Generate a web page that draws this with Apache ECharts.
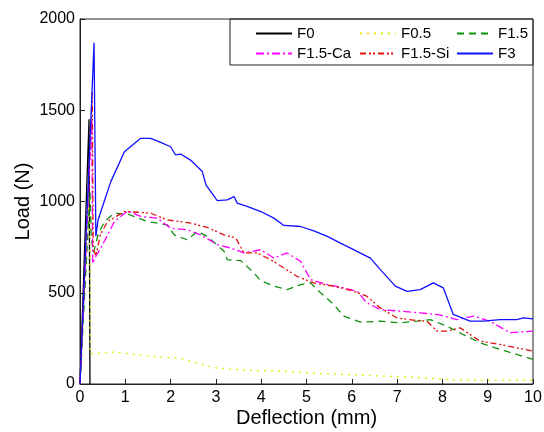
<!DOCTYPE html>
<html>
<head>
<meta charset="utf-8">
<script src="https://cdn.jsdelivr.net/npm/echarts@6/dist/echarts.min.js"></script>
<style>
  html, body { margin: 0; padding: 0; background: #fff; }
  #chart { width: 544px; height: 432px; }
</style>
</head>
<body>
<div id="chart"></div>
<script>
// series data: [deflection (mm), load (N)]
const seriesNames = ["F0", "F0.5", "F1.5", "F1.5-Ca", "F1.5-Si", "F3"];

const f0 = [[0, 0], [0.2, 1450], [0.22, 0]];

const f05 = [
  [0, 0], [0.2, 1000], [0.22, 650], [0.22, 165], [0.24, 162], [0.76, 175],
  [1.49, 153], [2.22, 140], [2.96, 89], [3.69, 75], [4.43, 71], [5.16, 58],
  [5.9, 52], [6.63, 44], [7.36, 38], [8.1, 25], [8.83, 20], [10, 20]
];

const f15 = [
  [0, 0], [0.22, 1050], [0.25, 800], [0.3, 720], [0.4, 820], [0.54, 890],
  [0.76, 936], [1.05, 931], [1.49, 890], [1.93, 872], [2.08, 817], [2.37, 790],
  [2.59, 836], [2.81, 809], [3.18, 727], [3.25, 681], [3.55, 676], [3.84, 608],
  [3.99, 566], [4.28, 536], [4.57, 517], [4.87, 545], [5.09, 554], [5.31, 500],
  [5.6, 436], [5.82, 372], [6.19, 339], [6.63, 344], [7.07, 335], [7.44, 344],
  [7.73, 353], [8.1, 317], [8.46, 271], [8.83, 226], [9.27, 190], [10, 135]
];

const f15ca = [
  [0, 0], [0.26, 1450], [0.28, 660], [0.35, 700], [0.46, 745], [0.76, 890],
  [1.05, 948], [1.34, 918], [1.71, 909], [2.0, 854], [2.37, 845], [2.67, 817],
  [3.03, 763], [3.33, 745], [3.62, 718], [3.99, 736], [4.28, 690], [4.57, 718],
  [4.87, 672], [5.09, 572], [5.46, 545], [5.82, 527], [6.12, 508], [6.33, 445],
  [6.63, 408], [7.07, 399], [7.51, 390], [7.88, 381], [8.32, 353], [8.69, 372],
  [9.05, 344], [9.49, 281], [10, 290]
];

const f15si = [
  [0, 0], [0.27, 1600], [0.29, 750], [0.35, 700], [0.45, 820], [0.61, 890],
  [0.98, 945], [1.27, 941], [1.56, 936], [1.93, 899], [2.44, 882], [2.81, 858],
  [3.18, 817], [3.44, 800], [3.62, 718], [3.91, 718], [4.21, 681], [4.5, 636],
  [4.79, 590], [5.16, 554], [5.6, 536], [6.04, 508], [6.33, 481], [6.63, 417],
  [7.0, 362], [7.36, 350], [7.66, 344], [7.88, 290], [8.1, 290], [8.39, 308],
  [8.83, 235], [9.27, 217], [10, 180]
];

const f3 = [
  [0, 0], [0.31, 1870], [0.35, 810], [0.4, 900], [0.68, 1109], [0.98, 1273],
  [1.34, 1346], [1.56, 1346], [1.78, 1324], [2.0, 1300], [2.11, 1255],
  [2.22, 1260], [2.44, 1227], [2.7, 1164], [2.78, 1091], [3.03, 1005],
  [3.25, 1009], [3.4, 1027], [3.47, 991], [3.69, 973], [3.99, 945], [4.28, 909],
  [4.5, 869], [4.87, 863], [5.16, 839], [5.46, 809], [5.75, 772], [6.04, 736],
  [6.41, 690], [6.63, 627], [6.96, 536], [7.22, 508], [7.51, 517], [7.8, 554],
  [8.02, 527], [8.24, 381], [8.61, 344], [8.91, 344], [9.27, 353], [9.64, 353],
  [9.79, 362], [10, 357]
];

const xTicks = { min: 0, max: 10, interval: 1 };
const yTicks = { min: 0, max: 2000, interval: 500 };

const chart = echarts.init(document.getElementById("chart"));

const styles = [
  { color: "#000000", type: "solid" },
  { color: "#e8e800", type: [2, 5] },
  { color: "#109010", type: [7, 5] },
  { color: "#ff00ff", type: [8, 3, 2, 3] },
  { color: "#e01010", type: [6, 3, 2, 2, 2, 3] },
  { color: "#1010ff", type: "solid" }
];
const allData = [f0, f05, f15, f15ca, f15si, f3];

const series = seriesNames.map((name, i) => ({
  name: name,
  type: "line",
  data: allData[i],
  showSymbol: false,
  symbol: "none",
  animation: false,
  lineStyle: { color: styles[i].color, type: styles[i].type, width: 1.3 },
  itemStyle: { color: styles[i].color }
}));

// legend positions, 3 columns x 2 rows
const legendPos = [
  [255, 26], [359, 26], [456, 26],
  [255, 46], [359, 46], [456, 46]
];
const legends = seriesNames.map((name, i) => ({
  data: [name],
  left: legendPos[i][0],
  top: legendPos[i][1],
  itemWidth: 36,
  itemHeight: 14,
  padding: 0,
  itemStyle: { opacity: 0 },
  textStyle: { fontFamily: "Liberation Sans", fontSize: 15, color: "#000" }
}));

chart.setOption({
  backgroundColor: "#fff",
  animation: false,
  textStyle: { fontFamily: "Liberation Sans" },
  grid: {
    left: 80, right: 11, top: 19, bottom: 48,
    outerBoundsMode: "none",
    show: true, borderColor: "#222", borderWidth: 1
  },
  legend: legends,
  graphic: [{
    type: "rect",
    shape: { x: 230, y: 19, width: 303, height: 46 },
    style: { fill: "none", stroke: "#222", lineWidth: 1 },
    z: 100
  }],
  xAxis: {
    type: "value",
    min: xTicks.min, max: xTicks.max, interval: xTicks.interval,
    name: "Deflection (mm)",
    nameLocation: "middle",
    nameGap: 24,
    nameMoveOverlap: false,
    nameTextStyle: { fontSize: 20, color: "#000", fontFamily: "Liberation Sans" },
    axisLine: { lineStyle: { color: "#222" } },
    axisTick: { inside: true, length: 5, lineStyle: { color: "#222" } },
    axisLabel: { fontSize: 16, color: "#000", margin: 6 },
    splitLine: { show: false }
  },
  yAxis: {
    type: "value",
    min: yTicks.min, max: yTicks.max, interval: yTicks.interval,
    name: "Load (N)",
    nameLocation: "middle",
    nameGap: 47,
    nameMoveOverlap: false,
    nameTextStyle: { fontSize: 20, color: "#000", fontFamily: "Liberation Sans" },
    axisLine: { show: true, lineStyle: { color: "#222" } },
    axisTick: { show: true, inside: true, length: 5, lineStyle: { color: "#222" } },
    axisLabel: { fontSize: 16, color: "#000", margin: 5, formatter: (v) => String(v) },
    splitLine: { show: false }
  },
  series: series
});
</script>
</body>
</html>
